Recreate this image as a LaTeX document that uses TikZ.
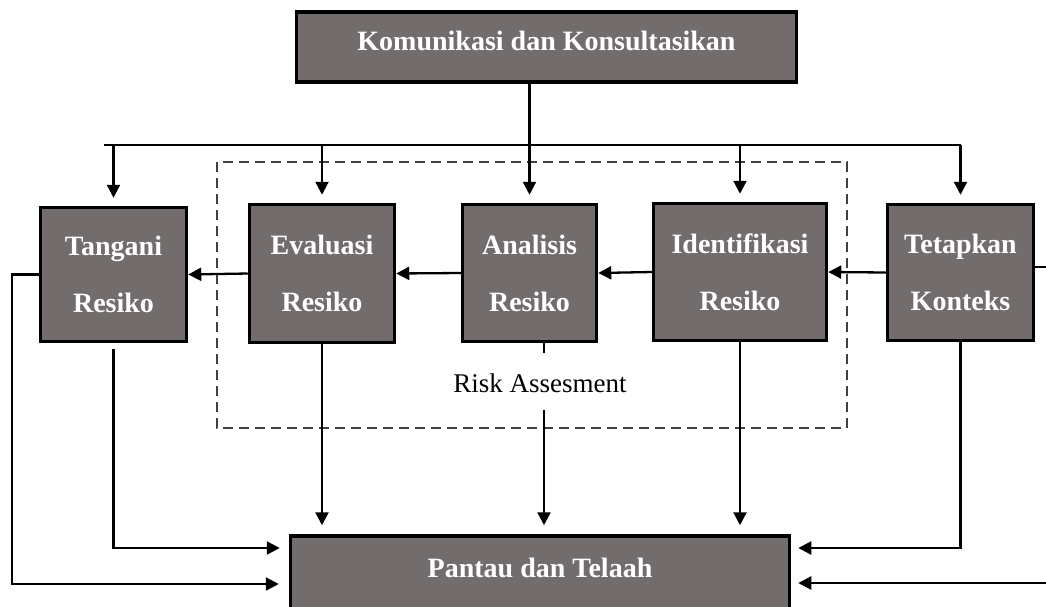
\documentclass[tikz,border=0pt]{standalone}
\usepackage{fontspec}
\setmainfont{Liberation Serif}
\usetikzlibrary{arrows.meta}
\definecolor{boxgray}{RGB}{114,109,108}
\newcommand{\drawstep}[6]{
    % a step = one grey box, name at (x,y) with width and height
    \node[stepbox,minimum width=#4pt,minimum height=#5pt] (#1) at (#2,#3) {#6};
}

\begin{document}
\begin{tikzpicture}[x=1pt,y=-1pt,
    stepbox/.style={draw,line width=3.5pt,fill=boxgray,text=white,align=center,inner sep=0pt,
        font=\fontsize{28}{57}\selectfont\bfseries},
    widebox/.style={stepbox,text depth=12pt},
    conn/.style={line width=2.3pt},
    arr/.style={conn,-{Triangle[length=13pt,width=13pt]}},
    zone/.style={line width=1.3pt,dash pattern=on 10pt off 6pt,black!75}]
    \useasboundingbox (0,0) rectangle (1046,606);
    \clip (0,0) rectangle (1046,606);

    % risk assesment area
    \draw[zone] (217,162) rectangle (847,428);

    % top and bottom boxes
    \node[widebox,minimum width=500pt,minimum height=70pt] (kom) at (546.5,47) {Komunikasi dan Konsultasikan};
    \node[widebox,minimum width=499pt,minimum height=76pt] (pan) at (540,574) {Pantau dan Telaah};

    % the five steps
    \drawstep{tan}{113.5}{274.5}{146}{134}{Tangani\\Resiko}
    \drawstep{eva}{322}{273.5}{145}{138}{Evaluasi\\Resiko}
    \drawstep{ana}{529.5}{273}{134}{137}{Analisis\\Resiko}
    \drawstep{iden}{740}{272}{173}{137}{Identifikasi\\Resiko}
    \drawstep{tet}{960.5}{272.5}{146}{136}{Tetapkan\\Konteks}

    \node[font=\fontsize{27}{30}\selectfont] (ra) at (540,383) {Risk Assesment};

    \coordinate (bus) at (0,145);
    \coordinate (lcol) at (12,0);
    \coordinate (rin) at (1046,267);
    \coordinate (rlow) at (1046,583);
    \coordinate (lvl1) at (0,548);
    \coordinate (lvl2) at (0,584);
    \coordinate (anx) at ([xshift=14.5pt]ana.south);

    % from the top box to every step
    \draw[conn] ([xshift=-10pt]tan.north |- bus) -- (tet.north |- bus);
    \draw[arr,shorten >=8pt] (ana.north |- kom.south) -- (ana.north);
    \foreach \b in {tan,eva,iden,tet}
        \draw[arr,shorten >=8pt] (\b.north |- bus) -- (\b.north);

    % from right to left
    \draw[conn] (rin) -- (rin -| tet.east);
    \draw[arr] (tet.west) -- (iden.east);
    \draw[arr] (iden.west) -- (ana.east);
    \draw[arr] (ana.west) -- (eva.east);
    \draw[arr] (eva.west) -- (tan.west -| tan.east);

    % down to the bottom box
    \draw[arr,shorten >=9pt] ([yshift=-6pt]tan.south) |- (pan.west |- lvl1);
    \draw[arr,shorten >=9pt] (eva.south) -- (eva.south |- pan.north);
    \draw[conn] (anx) -- ++(0,10);
    \draw[arr,shorten >=9pt] ([yshift=-14pt]ra.south -| anx) -- (anx |- pan.north);
    \draw[arr,shorten >=9pt] (iden.south) -- (iden.south |- pan.north);
    \draw[arr,shorten >=7pt] (tet.south) |- (pan.east |- lvl1);
    \draw[arr,shorten >=7pt] (rlow) -- (rlow -| pan.east);
    \draw[arr,shorten >=10pt] (tan.west) -- (tan.west -| lcol) -- (lcol |- lvl2) -- (pan.west |- lvl2);
\end{tikzpicture}
\end{document}
